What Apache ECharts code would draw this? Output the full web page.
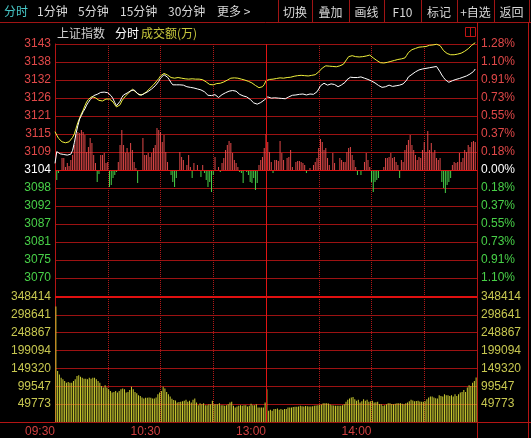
<!DOCTYPE html>
<html><head><meta charset="utf-8">
<script src="https://cdn.jsdelivr.net/npm/echarts@6/dist/echarts.min.js"></script>
<style>html,body{margin:0;padding:0;background:#000;}#c{width:531px;height:438px;}</style>
</head><body><div id="c"></div>
<script>
// ---- data (one value per minute, index 0 = 09:30, 120 = 11:30/13:00, 240 = 15:00) ----
const indexLine = [
3106.1,3109.8,3109.4,3109.1,3109.2,3108.9,3108.6,3108.7,3108.4,3109.0,
3110.2,3112.6,3115.6,3118.0,3120.1,3121.2,3122.4,3123.3,3124.5,3125.4,
3126.2,3126.8,3127.5,3128.0,3127.9,3128.3,3128.5,3128.4,3128.6,3128.5,
3128.4,3128.1,3127.4,3126.5,3125.3,3124.3,3124.8,3125.7,3126.9,3127.7,
3128.0,3128.3,3128.7,3129.0,3129.4,3129.3,3128.8,3128.1,3127.7,3127.6,
3127.9,3128.2,3128.5,3128.8,3129.2,3129.6,3130.1,3130.6,3131.2,3132.0,
3133.0,3133.6,3134.1,3134.0,3133.3,3132.5,3131.6,3130.9,3130.6,3130.9,
3130.7,3130.9,3130.6,3130.8,3130.4,3130.3,3130.5,3130.1,3130.2,3129.9,
3129.8,3129.6,3129.8,3129.3,3129.0,3128.7,3128.3,3127.6,3127.1,3127.5,
3127.9,3127.8,3127.3,3126.9,3127.2,3127.8,3128.1,3128.4,3128.7,3128.9,
3129.0,3129.1,3129.2,3128.9,3128.4,3127.9,3127.7,3127.4,3127.2,3127.1,
3126.7,3126.3,3125.9,3125.2,3124.6,3124.8,3125.0,3125.3,3125.7,3126.1,
3126.5,3127.1,3126.9,3126.7,3126.6,3126.8,3126.9,3126.7,3126.8,3126.6,
3126.4,3126.5,3126.8,3127.1,3127.3,3127.6,3127.9,3127.7,3127.5,3127.9,
3128.2,3128.0,3127.8,3127.7,3127.9,3128.0,3127.8,3127.9,3128.2,3128.7,
3129.6,3130.6,3131.0,3131.4,3131.1,3130.8,3131.0,3131.2,3131.4,3131.0,
3130.6,3130.3,3130.6,3130.9,3131.0,3131.7,3132.5,3133.0,3133.3,3133.4,
3133.2,3133.4,3133.2,3133.3,3133.4,3133.1,3133.0,3132.9,3132.6,3132.3,
3132.1,3131.9,3131.5,3131.1,3130.7,3130.4,3130.1,3130.0,3130.3,3130.6,
3130.8,3130.6,3130.4,3130.3,3130.6,3130.8,3130.8,3131.0,3131.2,3131.4,
3132.4,3133.4,3133.8,3134.2,3134.6,3135.0,3135.3,3135.6,3135.8,3135.9,
3136.0,3136.1,3136.2,3136.3,3136.4,3136.5,3136.6,3136.7,3136.1,3135.0,
3134.0,3133.2,3132.5,3132.0,3131.7,3131.9,3132.2,3132.4,3132.6,3132.7,
3132.9,3133.1,3133.3,3133.5,3133.7,3134.0,3134.3,3134.6,3135.1,3135.9
];
const leadLine = [
3116.1,3115.0,3114.0,3113.4,3112.9,3112.7,3112.6,3112.7,3112.9,3113.3,
3114.3,3115.4,3117.2,3119.0,3120.4,3121.7,3122.9,3124.3,3125.5,3126.3,
3126.8,3127.2,3127.3,3126.8,3126.2,3126.0,3125.9,3125.8,3126.1,3126.4,
3126.3,3126.4,3126.2,3125.5,3124.6,3123.9,3123.5,3124.6,3125.8,3126.6,
3127.3,3127.9,3128.4,3128.9,3129.5,3129.3,3128.6,3128.0,3127.7,3127.5,
3127.9,3128.3,3128.7,3129.2,3129.8,3130.3,3130.9,3131.5,3132.2,3132.9,
3133.7,3134.2,3134.5,3134.4,3134.0,3133.6,3133.2,3132.9,3133.0,3133.1,
3133.2,3133.1,3133.0,3132.9,3132.8,3132.8,3132.7,3132.7,3132.8,3132.7,
3132.7,3132.6,3132.7,3132.6,3132.5,3132.1,3131.8,3131.4,3131.0,3130.8,
3130.9,3131.1,3131.3,3131.3,3131.4,3131.6,3131.8,3132.0,3132.4,3132.8,
3133.0,3133.1,3133.1,3133.1,3133.0,3132.8,3132.7,3132.6,3132.4,3132.2,
3132.0,3131.8,3131.5,3131.1,3130.7,3130.3,3130.0,3130.1,3130.3,3131.0,
3132.2,3132.5,3132.6,3132.6,3132.7,3132.8,3132.9,3133.0,3133.1,3133.1,
3133.0,3133.1,3133.2,3133.2,3133.3,3133.4,3133.6,3133.7,3133.8,3134.0,
3133.9,3133.9,3133.8,3133.8,3133.7,3133.8,3133.9,3134.0,3134.1,3134.5,
3135.0,3135.6,3136.2,3136.8,3136.9,3136.8,3136.8,3136.8,3136.7,3136.7,
3136.6,3136.7,3136.9,3137.1,3137.4,3137.8,3139.0,3139.8,3139.9,3140.1,
3140.0,3139.8,3139.7,3139.7,3139.7,3139.8,3139.9,3140.0,3140.2,3140.3,
3139.9,3139.4,3138.9,3138.6,3138.2,3137.9,3137.7,3137.8,3137.9,3138.0,
3138.2,3138.3,3138.4,3138.6,3138.7,3138.9,3139.0,3139.1,3139.2,3139.4,
3140.2,3141.1,3141.7,3142.0,3142.2,3142.4,3142.6,3142.8,3142.9,3142.9,
3143.0,3143.0,3143.2,3143.4,3143.4,3143.5,3143.6,3143.7,3143.8,3143.3,
3142.5,3141.7,3141.1,3140.8,3140.6,3140.4,3140.3,3140.4,3140.5,3140.6,
3140.6,3140.9,3141.2,3141.5,3141.8,3142.3,3142.9,3143.4,3143.9,3144.2
];
const strengthBars = [
0,-10,-3,0,12,12,3,7,4,10,
15,25,35,38,37,40,38,35,18,23,
32,27,15,7,-12,-4,15,15,17,7,
8,-17,-15,-8,-5,-2,8,25,40,25,
17,22,17,27,20,8,2,-13,0,0,
32,15,15,17,13,17,22,25,42,40,
38,28,35,18,8,0,-5,-12,-17,-8,
0,18,13,10,0,5,15,3,-8,7,
0,5,0,-7,5,-3,-10,-17,-12,-22,
-5,13,0,3,-2,7,12,20,25,29,
27,17,10,7,3,-2,-3,-13,0,-2,
-5,-12,-13,-8,-20,-13,5,10,13,22,
36,28,18,8,-3,10,10,9,29,17,
10,0,12,13,20,3,0,8,9,9,
8,7,5,-3,0,2,0,5,8,12,
22,31,28,20,22,12,5,0,17,7,
0,0,12,10,8,8,18,22,23,15,
10,3,-5,0,-5,0,8,17,10,3,
-12,-22,-12,-10,-8,0,0,3,12,12,
13,17,12,13,8,5,-8,10,8,20,
25,30,35,25,20,15,10,13,12,20,
28,18,39,20,27,17,20,12,10,12,
-12,-18,-23,-15,-12,-8,5,8,7,8,
17,8,12,20,18,25,23,28,29,28
];
const turnover = [
321700,141900,132700,123500,118900,114300,109700,111500,109700,109700,
114300,118900,128100,130000,126300,123500,120700,120700,118900,123500,
120700,123500,123500,118900,114300,109700,100500,95900,102300,95900,
91200,86600,82000,83900,86600,82000,86600,91200,93100,91200,
82000,83900,89400,98600,91200,83900,80200,74700,72800,68200,
65400,67300,67300,68200,67300,65400,65400,68200,77400,82000,
86600,98600,93100,83900,77400,71000,65000,61000,60000,54400,
56000,56200,58000,59000,61800,56200,59000,54400,61800,65400,
54400,47000,52500,49800,52500,47000,47000,49800,49800,59000,
49800,49800,49800,52500,47000,47000,45200,47000,49800,54400,
56200,45200,40600,43300,45200,47000,45200,47000,47000,43300,
45200,50700,47000,47000,49800,40600,40600,40600,40600,54400,
91200,31300,34100,31300,35900,35900,37800,34100,35900,34100,
35900,35900,40600,40600,40600,41500,42400,42800,43300,45200,
44000,43300,44500,44200,43500,43300,44000,45200,46000,47000,
48000,48900,52500,52500,52500,51600,49000,47000,46000,45200,
45200,45000,45200,47000,49800,56200,61800,65400,68200,70000,
63600,59000,61800,54400,58100,63600,59000,61800,56200,58000,
59000,54400,55000,56200,50000,49800,45200,47000,49800,52500,
52500,50000,49800,51000,52500,52500,52500,51000,49800,52000,
54400,58000,61800,60000,58100,58500,59000,57000,56200,56200,
58000,63600,68200,71000,71000,68200,66000,65400,74700,72800,
71000,77400,74700,74700,72800,74700,71000,77400,72800,77400,
82000,83900,89400,83900,95900,102300,100500,109700,114300,124000
];
const priceTickLabels = ['', '3070','3075','3081','3087','3092','3098','3104','3109','3115','3121','3126','3132','3138','3143'];
const pctTickLabels = ['', '1.10%','0.91%','0.73%','0.55%','0.37%','0.18%','0.00%','0.18%','0.37%','0.55%','0.73%','0.91%','1.10%','1.28%'];
const volTickLabels = ['', '49773','99547','149320','199094','248867','298641','348414'];
const timeTickPos = [0, 60, 120, 180];
const timeTickLabels = ['09:30', '10:30', '13:00', '14:00'];
const periodTabs = ['分时', '1分钟', '5分钟', '15分钟', '30分钟', '更多 >'];
const toolButtons = ['切换', '叠加', '画线', 'F10', '标记', '+自选', '返回'];
const headerTexts = ['上证指数', '分时', '成交额(万)'];

// ---- scales ----
const PRE_CLOSE = 3104;
const STEP = PRE_CLOSE / 546;          // ~0.183 % of pre-close
const PMIN = PRE_CLOSE - 7 * STEP, PMAX = PRE_CLOSE + 7 * STEP;
const VMAX = 348414, VSTEP = VMAX / 7;

const RED = '#e04848', GREEN = '#48d048', GRID = '#9c1212', BRIGHT = '#e01414';
const NUMFONT = 'Liberation Sans';
const CJK = '"Noto Sans CJK SC"';

function pIdx(v) { return Math.round((v - PMIN) / STEP); }
function vIdx(v) { return Math.round(v / VSTEP); }
function pColor(v) { const i = pIdx(v); return i < 7 ? GREEN : (i === 7 ? '#ffffff' : RED); }

const chart = echarts.init(document.getElementById('c'), null, {renderer: 'canvas'});

const graphics = [];
// toolbar
const tabX = [4, 37, 78, 120, 168, 217];
periodTabs.forEach((t, k) => graphics.push({type: 'text', left: tabX[k], top: 5, style: {text: t, fill: k === 0 ? '#48c8c8' : '#d8d8d8', font: '12px ' + CJK}}));
const sepX = [278, 312, 349, 384, 421, 457, 494, 529];
toolButtons.forEach((t, k) => graphics.push({type: 'text', x: (sepX[k] + sepX[k + 1]) / 2, y: 12, style: {text: t, fill: '#d8d8d8', font: '12px ' + CJK, align: 'center', verticalAlign: 'middle'}}));
sepX.forEach(x => graphics.push({type: 'line', shape: {x1: x + 0.5, y1: 0, x2: x + 0.5, y2: 22}, style: {stroke: '#a01414', lineWidth: 1}}));
// frame lines
graphics.push({type: 'line', shape: {x1: 0, y1: 22.5, x2: 531, y2: 22.5}, style: {stroke: '#a01414', lineWidth: 1}});
graphics.push({type: 'line', shape: {x1: 477.5, y1: 22, x2: 477.5, y2: 438}, style: {stroke: '#b41414', lineWidth: 1}});
graphics.push({type: 'line', shape: {x1: 528.5, y1: 22, x2: 528.5, y2: 438}, style: {stroke: '#b41414', lineWidth: 1}});
graphics.push({type: 'line', shape: {x1: 0, y1: 422.5, x2: 531, y2: 422.5}, style: {stroke: '#b41414', lineWidth: 1}});
// header row
graphics.push({type: 'text', left: 57, top: 27, style: {text: headerTexts[0], fill: '#d0d0d0', font: '12px ' + CJK}});
graphics.push({type: 'text', left: 115, top: 27, style: {text: headerTexts[1], fill: '#ffffff', font: '12px ' + CJK}});
graphics.push({type: 'text', left: 141, top: 27, style: {text: headerTexts[2], fill: '#c8c83c', font: '12px ' + CJK}});
// small icon
graphics.push({type: 'rect', shape: {x: 465.5, y: 27.5, width: 10, height: 9}, style: {fill: 'none', stroke: '#c01414', lineWidth: 1}});
graphics.push({type: 'line', shape: {x1: 470.5, y1: 27.5, x2: 470.5, y2: 36.5}, style: {stroke: '#c01414', lineWidth: 1}});

const option = {
  backgroundColor: '#000000',
  animation: false,
  grid: [
    {left: 55, top: 44, width: 422, height: 252},
    {left: 55, top: 297, width: 422, height: 125}
  ],
  xAxis: [
    {gridIndex: 0, type: 'value', min: 0, max: 240, interval: 30,
     axisLine: {show: false}, axisTick: {show: false}, axisLabel: {show: false},
     splitLine: {show: true, lineStyle: {color: '#b01818', type: 'dotted', width: 1}}},
    {gridIndex: 1, type: 'value', min: 0, max: 240, interval: 30,
     axisLine: {show: false}, axisTick: {show: false},
     axisLabel: {show: true, margin: 4, align: 'right', color: '#d04040', fontSize: 12, fontFamily: NUMFONT,
       formatter: v => { const k = timeTickPos.indexOf(Math.round(v)); return k >= 0 ? timeTickLabels[k] : ''; }},
     splitLine: {show: true, lineStyle: {color: '#b01818', type: 'dotted', width: 1}}}
  ],
  yAxis: [
    {gridIndex: 0, type: 'value', position: 'left', min: PMIN, max: PMAX, interval: STEP,
     axisLine: {show: true, lineStyle: {color: '#b41414'}}, axisTick: {show: false},
     axisLabel: {margin: 4, fontSize: 12, fontFamily: NUMFONT, formatter: v => priceTickLabels[pIdx(v)] || '', color: pColor},
     splitLine: {show: true, lineStyle: {color: GRID, width: 1}}},
    {gridIndex: 0, type: 'value', position: 'right', min: PMIN, max: PMAX, interval: STEP,
     axisLine: {show: true, lineStyle: {color: '#b41414'}}, axisTick: {show: false},
     axisLabel: {margin: 4, fontSize: 12, fontFamily: NUMFONT, formatter: v => pctTickLabels[pIdx(v)] || '', color: pColor},
     splitLine: {show: false}},
    {gridIndex: 0, type: 'value', min: -126, max: 126, show: false},
    {gridIndex: 1, type: 'value', position: 'left', min: 0, max: VMAX, interval: VSTEP,
     axisLine: {show: true, lineStyle: {color: '#b41414'}}, axisTick: {show: false},
     axisLabel: {margin: 4, fontSize: 12, fontFamily: NUMFONT, color: '#c8c850', formatter: v => volTickLabels[vIdx(v)] || ''},
     splitLine: {show: true, lineStyle: {color: GRID, width: 1}}},
    {gridIndex: 1, type: 'value', position: 'right', min: 0, max: VMAX, interval: VSTEP,
     axisLine: {show: false}, axisTick: {show: false},
     axisLabel: {margin: 4, fontSize: 12, fontFamily: NUMFONT, color: '#c8c850', formatter: v => volTickLabels[vIdx(v)] || ''},
     splitLine: {show: false}}
  ],
  series: [
    {type: 'bar', xAxisIndex: 0, yAxisIndex: 2, barWidth: 1, silent: true, clip: false, z: 3,
     data: strengthBars.map((v, i) => [i, v]),
     itemStyle: {color: p => p.value[1] >= 0 ? RED : GREEN},
     markLine: {silent: true, symbol: 'none', label: {show: false},
       lineStyle: {color: BRIGHT, type: 'solid', width: 1}, data: [{yAxis: 0}]}},
    {type: 'line', xAxisIndex: 0, yAxisIndex: 0, showSymbol: false, clip: false,
     data: leadLine.map((v, i) => [i, v]), lineStyle: {color: '#f0f03c', width: 1}},
    {type: 'line', xAxisIndex: 0, yAxisIndex: 0, showSymbol: false, clip: false,
     data: indexLine.map((v, i) => [i, v]), lineStyle: {color: '#ffffff', width: 1},
     markLine: {silent: true, symbol: 'none', label: {show: false},
       lineStyle: {color: BRIGHT, type: 'solid', width: 1}, data: [{xAxis: 120}]}},
    {type: 'bar', xAxisIndex: 1, yAxisIndex: 3, barWidth: 1, silent: true, clip: false, z: 3,
     data: turnover.map((v, i) => [i + 0.5, v]),
     itemStyle: {color: '#cccc30'},
     markLine: {silent: true, symbol: 'none', label: {show: false},
       data: [{xAxis: 120, lineStyle: {color: BRIGHT, type: 'solid', width: 1}},
              {yAxis: VMAX, lineStyle: {color: '#e01010', type: 'solid', width: 2}}]}}
  ],
  graphic: graphics
};
chart.setOption(option);
</script>
</body></html>
